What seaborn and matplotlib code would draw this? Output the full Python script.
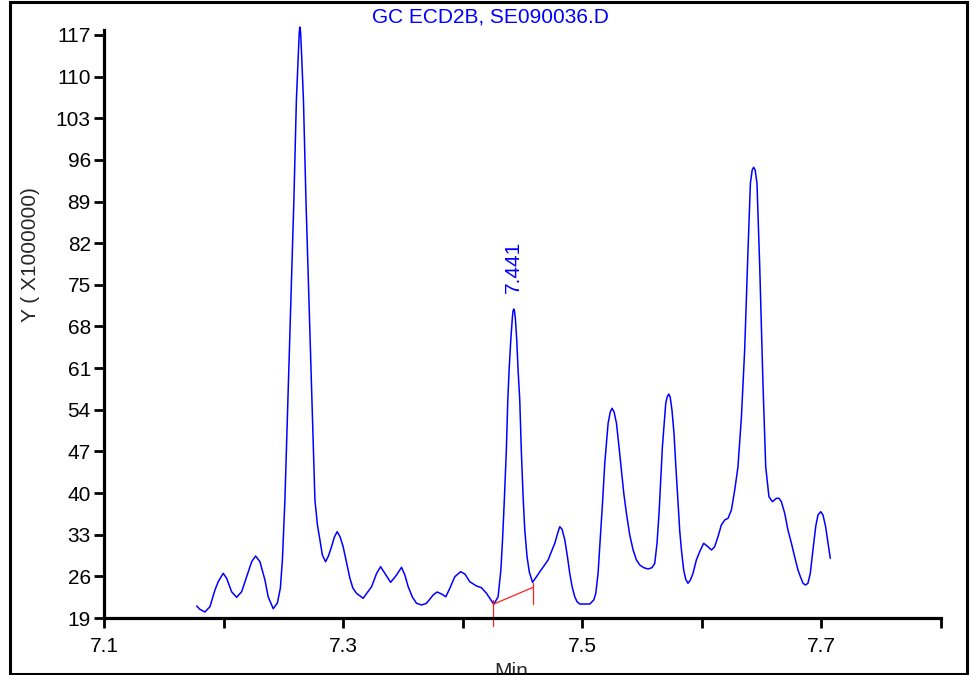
import matplotlib
matplotlib.use("Agg")
import matplotlib.pyplot as plt
import seaborn as sns
import pandas as pd
from matplotlib.patches import Rectangle

# Retention time (min) and response (x1,000,000)
rt = [7.1775, 7.1802, 7.1844, 7.1886, 7.1928, 7.1955, 7.1997, 7.2026, 7.2067, 7.2109,
      7.2151, 7.2193, 7.2235, 7.2268, 7.2304, 7.2346, 7.2373, 7.2415, 7.2450, 7.2475,
      7.2492, 7.2513, 7.2538, 7.2563, 7.2588, 7.2609, 7.2626, 7.2633, 7.2638, 7.2644,
      7.2651, 7.2668, 7.2689, 7.2714, 7.2739, 7.2764, 7.2785, 7.2806, 7.2826, 7.2853,
      7.2877, 7.2903, 7.2927, 7.2950, 7.2975, 7.3000, 7.3027, 7.3056, 7.3081, 7.3112,
      7.3167, 7.3238, 7.3280, 7.3313, 7.3349, 7.3397, 7.3447, 7.3488, 7.3516, 7.3544,
      7.3580, 7.3614, 7.3656, 7.3697, 7.3753, 7.3786, 7.3823, 7.3859, 7.3892, 7.3934,
      7.3982, 7.4018, 7.4059, 7.4115, 7.4157, 7.4199, 7.4260, 7.4296, 7.4319, 7.4333,
      7.4348, 7.4365, 7.4377, 7.4388, 7.4402, 7.4415, 7.4421, 7.4427, 7.4433, 7.4440,
      7.4452, 7.4463, 7.4477, 7.4490, 7.4505, 7.4519, 7.4538, 7.4557, 7.4584, 7.4617,
      7.4645, 7.4714, 7.4770, 7.4798, 7.4812, 7.4831, 7.4854, 7.4876, 7.4895, 7.4915,
      7.4937, 7.4956, 7.4979, 7.5063, 7.5096, 7.5113, 7.5132, 7.5146, 7.5169, 7.5188,
      7.5216, 7.5234, 7.5249, 7.5266, 7.5286, 7.5307, 7.5327, 7.5347, 7.5369, 7.5397,
      7.5425, 7.5453, 7.5481, 7.5514, 7.5550, 7.5583, 7.5606, 7.5625, 7.5642, 7.5670,
      7.5698, 7.5710, 7.5723, 7.5735, 7.5750, 7.5767, 7.5781, 7.5798, 7.5815, 7.5832,
      7.5848, 7.5865, 7.5884, 7.5904, 7.5926, 7.5954, 7.5982, 7.6015, 7.6051, 7.6080,
      7.6107, 7.6135, 7.6163, 7.6191, 7.6219, 7.6247, 7.6275, 7.6302, 7.6331, 7.6358,
      7.6386, 7.6406, 7.6421, 7.6433, 7.6446, 7.6461, 7.6484, 7.6511, 7.6534, 7.6561,
      7.6590, 7.6623, 7.6645, 7.6665, 7.6693, 7.6720, 7.6749, 7.6776, 7.6804, 7.6824,
      7.6846, 7.6866, 7.6887, 7.6907, 7.6929, 7.6952, 7.6971, 7.6994, 7.7013, 7.7035,
      7.7055, 7.7074]
resp = [21.02, 20.46, 20.01, 20.90, 23.71, 25.10, 26.51, 25.67, 23.42, 22.48,
        23.42, 25.94, 28.46, 29.42, 28.46, 25.39, 22.58, 20.56, 21.52, 24.04,
        28.75, 38.84, 55.65, 72.45, 89.26, 106.07, 114.48, 117.50, 118.34, 117.50,
        114.48, 106.07, 89.26, 72.45, 55.65, 38.84, 34.63, 32.11, 29.59, 28.46,
        29.42, 30.99, 32.62, 33.51, 32.62, 30.99, 28.41, 25.72, 24.04, 23.15,
        22.31, 24.26, 26.51, 27.62, 26.51, 25.00, 26.23, 27.52, 26.23, 24.26,
        22.48, 21.47, 21.19, 21.47, 22.87, 23.37, 23.03, 22.58, 23.99, 25.94,
        26.78, 26.40, 25.10, 24.38, 24.09, 23.15, 21.30, 22.58, 27.07, 32.11,
        38.84, 47.24, 55.65, 60.69, 65.73, 69.43, 70.61, 70.94, 70.61, 69.43,
        65.73, 60.69, 55.65, 47.24, 39.39, 33.79, 29.30, 26.73, 25.00, 25.94,
        26.78, 28.75, 31.56, 33.51, 34.35, 33.91, 32.11, 29.30, 26.51, 24.26,
        22.58, 21.74, 21.35, 21.35, 22.03, 23.15, 26.51, 30.99, 38.28, 45.00,
        51.73, 53.63, 54.25, 53.63, 51.73, 47.80, 43.88, 39.96, 36.60, 32.95,
        30.43, 28.75, 27.91, 27.46, 27.24, 27.46, 28.19, 31.56, 36.60, 47.79,
        55.09, 56.15, 56.65, 56.15, 53.96, 50.05, 45.00, 39.39, 33.62, 29.88,
        27.07, 25.51, 24.83, 25.39, 26.51, 28.75, 30.15, 31.56, 30.99, 30.43,
        30.99, 32.67, 34.63, 35.47, 35.76, 37.15, 40.52, 44.43, 52.84, 64.05,
        80.86, 92.07, 94.31, 94.76, 94.31, 92.07, 78.05, 58.45, 44.43, 39.39,
        38.55, 39.12, 39.12, 38.55, 36.60, 33.79, 31.56, 29.30, 27.07, 25.94,
        24.83, 24.55, 24.83, 26.51, 30.43, 34.35, 36.31, 36.87, 36.31, 34.35,
        31.56, 29.04]

# Integration baseline of the labelled peak
base_rt = [7.4254, 7.4589]
base_resp = [21.30, 24.16]
peak_label = "7.441"
peak_label_rt = 7.4425
peak_label_resp = 73.6

x_ticks = [7.1, 7.2, 7.3, 7.4, 7.5, 7.6, 7.7, 7.8]
x_labels = ["7.1", "", "7.3", "", "7.5", "", "7.7", ""]
y_ticks = [19, 26, 33, 40, 47, 54, 61, 68, 75, 82, 89, 96, 103, 110, 117]

title = "GC ECD2B, SE090036.D"
xlabel = "Min"
ylabel = "Y ( X1000000)"

n = min(len(rt), len(resp))
sns.set_theme(style="white")
plt.rcParams['font.family'] = ['Liberation Sans', 'DejaVu Sans']
FS = 15

fig = plt.figure(figsize=(9.71, 6.75), dpi=100)
fig.patch.set_facecolor("white")
ax = fig.add_axes([104/971, 1-618/675, (941-104)/971, (618-30)/675])
ax.set_facecolor("white")

df = pd.DataFrame({"rt": rt[:n], "resp": resp[:n]})
sns.lineplot(data=df, x="rt", y="resp", sort=False, estimator=None,
             color="#0000FF", linewidth=1.1, ax=ax)
for ln in ax.lines:
    ln.set_clip_on(False)
    ln.set_solid_joinstyle("round")

red = "#FF2020"
ax.plot(base_rt, base_resp, color=red, linewidth=0.9, clip_on=False)
ax.plot([base_rt[0], base_rt[0]], [22.03, 17.66], color=red, linewidth=0.9, clip_on=False)
ax.plot([base_rt[1], base_rt[1]], [24.88, 21.35], color=red, linewidth=0.9, clip_on=False)

ax.text(peak_label_rt, peak_label_resp, peak_label, rotation=90, color="#0000FF",
        ha="center", va="bottom", fontsize=FS)

ax.set_xlim(7.1, 7.8)
ax.set_ylim(19, 117.84)
ax.set_xticks(x_ticks)
ax.set_xticklabels(x_labels)
ax.set_yticks(y_ticks)
ax.set_yticklabels([str(v) for v in y_ticks])
ax.set_xlabel("")
ax.set_ylabel("")

for side in ["top", "right"]:
    ax.spines[side].set_visible(False)
for side in ["left", "bottom"]:
    ax.spines[side].set_visible(True)
    ax.spines[side].set_color("black")
    ax.spines[side].set_linewidth(2.3)
ax.tick_params(axis="both", which="major", direction="out", length=7.5, width=2,
               color="black", labelsize=FS, labelcolor="black",
               left=True, bottom=True)
ax.tick_params(axis="x", pad=6)
ax.tick_params(axis="y", pad=2)
ax.grid(False)

fig.text(490/971, 1-17/675, title, color="#0000FF", ha="center", va="center", fontsize=FS)
fig.text(31/971, 1-255/675, ylabel, rotation=90, ha="center", va="center", fontsize=FS)
fig.text(511/971, -0.003, xlabel, ha="center", va="baseline", fontsize=FS)

fig.patches.append(Rectangle((10/971, 1.5/675), (966.5-10)/971, (673.5-1.5)/675,
                             transform=fig.transFigure, fill=False,
                             edgecolor="black", linewidth=2.2, zorder=10))

fig.savefig("out.png", dpi=100, facecolor="white")
